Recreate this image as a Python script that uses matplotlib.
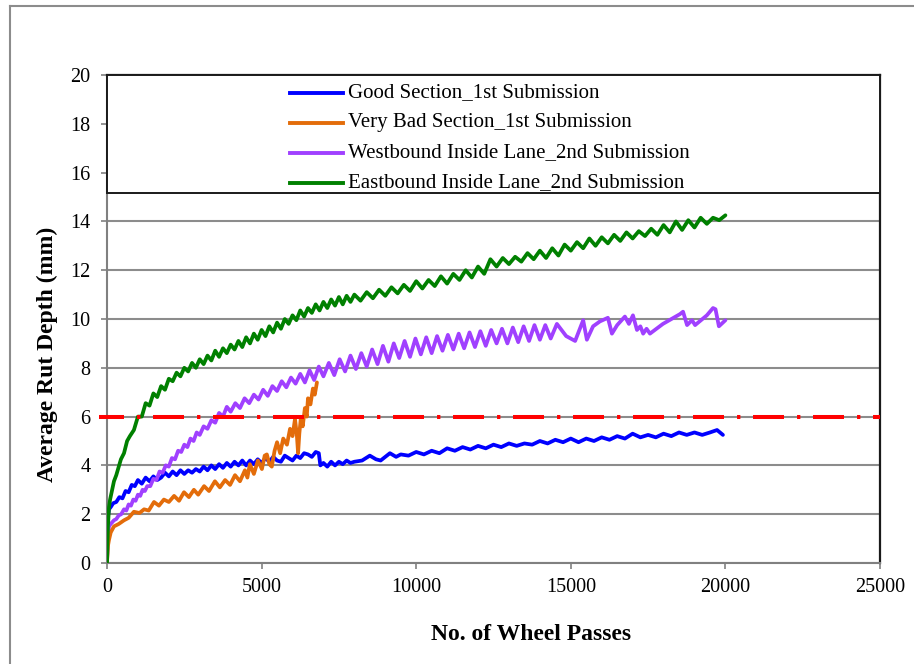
import matplotlib
matplotlib.use("Agg")
import matplotlib.pyplot as plt
from matplotlib.lines import Line2D
from matplotlib.patches import Rectangle

# ---------------- data: average rut depth (mm) vs. number of wheel passes ----------------
good_x = [0, 30, 65, 125, 200, 300, 400, 500, 600, 700,
          800, 900, 1000, 1125, 1250, 1375, 1500, 1625, 1750, 1875,
          2000, 2125, 2250, 2375, 2500, 2625, 2750, 2875, 3000, 3125,
          3250, 3375, 3500, 3625, 3750, 3875, 4000, 4125, 4250, 4375,
          4500, 4625, 4750, 4875, 5000, 5125, 5250, 5375, 5500, 5625,
          5750, 5875, 6000, 6125, 6250, 6375, 6500, 6625, 6750, 6850,
          6900, 7000, 7125, 7250, 7375, 7500, 7625, 7750, 7875, 8000,
          8250, 8500, 8700, 8850, 9000, 9150, 9350, 9500, 9750, 10000,
          10250, 10500, 10750, 11000, 11250, 11500, 11750, 12000, 12250, 12500,
          12750, 13000, 13250, 13500, 13750, 14000, 14250, 14500, 14750, 15000,
          15250, 15500, 15750, 16000, 16250, 16500, 16750, 17000, 17250, 17500,
          17750, 18000, 18250, 18500, 18750, 19000, 19250, 19500, 19730, 19920]
good_y = [0, 1.9, 2.2, 2.3, 2.45, 2.5, 2.7, 2.65, 2.95, 2.9,
          3.2, 3.15, 3.4, 3.25, 3.5, 3.35, 3.55, 3.4, 3.5, 3.7,
          3.55, 3.75, 3.6, 3.8, 3.65, 3.8, 3.7, 3.85, 3.75, 3.95,
          3.8, 4.0, 3.85, 4.05, 3.9, 4.1, 3.95, 4.15, 4.0, 4.2,
          4.0, 4.2, 4.05, 4.25, 4.1, 4.3, 4.15, 4.35, 4.2, 4.15,
          4.4, 4.3, 4.2, 4.4, 4.3, 4.5, 4.45, 4.35, 4.55, 4.5,
          4.0, 4.1, 3.95, 4.15, 4.0, 4.15, 4.05, 4.2, 4.1, 4.15,
          4.2, 4.4, 4.25, 4.2, 4.35, 4.5, 4.35, 4.45, 4.4, 4.55,
          4.45, 4.6, 4.5, 4.7, 4.6, 4.75, 4.65, 4.8, 4.7, 4.85,
          4.75, 4.9, 4.8, 4.9, 4.85, 5.0, 4.9, 5.05, 4.95, 5.1,
          4.95, 5.1, 5.0, 5.15, 5.05, 5.2, 5.1, 5.3, 5.15, 5.25,
          5.15, 5.3, 5.2, 5.35, 5.25, 5.35, 5.25, 5.35, 5.45, 5.25]

verybad_x = [0, 30, 65, 120, 225, 380, 550, 700, 870, 1050,
             1200, 1350, 1520, 1680, 1840, 2000, 2170, 2330, 2490, 2650,
             2810, 2950, 3140, 3300, 3490, 3650, 3820, 3980, 4140, 4300,
             4460, 4540, 4620, 4750, 4880, 5010, 5100, 5170, 5250, 5330,
             5420, 5500, 5600, 5700, 5820, 5920, 6000, 6080, 6140, 6180,
             6220, 6270, 6330, 6400, 6460, 6500, 6580, 6660, 6720, 6790]
verybad_y = [0, 0.7, 0.95, 1.25, 1.5, 1.6, 1.75, 1.85, 2.1, 2.05,
             2.2, 2.15, 2.5, 2.35, 2.6, 2.5, 2.75, 2.55, 2.9, 2.7,
             3.0, 2.8, 3.15, 2.95, 3.35, 3.1, 3.4, 3.2, 3.6, 3.35,
             3.8, 3.5, 4.05, 3.65, 4.2, 3.85, 4.4, 4.45, 4.05, 3.95,
             4.6, 4.95, 4.5, 5.1, 4.85, 5.5, 5.2, 5.9, 5.25, 4.5,
             5.3, 5.95, 5.6, 6.35, 6.0, 6.75, 6.5, 7.15, 6.9, 7.4]

west_x = [0, 30, 65, 120, 225, 300, 380, 460, 550, 625,
          700, 775, 850, 925, 1000, 1075, 1150, 1225, 1300, 1400,
          1500, 1600, 1700, 1800, 1900, 2000, 2100, 2200, 2300, 2400,
          2500, 2600, 2700, 2800, 2900, 3000, 3125, 3250, 3375, 3500,
          3625, 3750, 3875, 4000, 4150, 4300, 4450, 4600, 4750, 4900,
          5050, 5200, 5350, 5500, 5650, 5800, 5950, 6100, 6250, 6400,
          6550, 6700, 6850, 7000, 7175, 7350, 7525, 7700, 7875, 8050,
          8225, 8400, 8575, 8750, 8925, 9100, 9275, 9450, 9625, 9800,
          9975, 10150, 10325, 10500, 10675, 10850, 11025, 11200, 11375, 11550,
          11725, 11900, 12075, 12250, 12425, 12600, 12775, 12950, 13125, 13300,
          13475, 13650, 13825, 14000, 14175, 14350, 14550, 14850, 15140, 15400,
          15520, 15720, 15940, 16200, 16330, 16500, 16750, 16880, 17010, 17140,
          17250, 17340, 17450, 17560, 17980, 18530, 18630, 18760, 18920, 19020,
          19400, 19600, 19680, 19790, 20000]
west_y = [0, 1.1, 1.5, 1.6, 1.75, 1.8, 1.95, 2.0, 2.2, 2.15,
          2.4, 2.35, 2.6, 2.55, 2.8, 2.75, 3.0, 2.95, 3.15, 3.15,
          3.45, 3.4, 3.75, 3.7, 4.0, 3.95, 4.3, 4.25, 4.6, 4.55,
          4.85, 4.75, 5.1, 5.0, 5.35, 5.25, 5.6, 5.5, 5.85, 5.75,
          6.15, 6.0, 6.4, 6.2, 6.55, 6.35, 6.75, 6.55, 6.9, 6.7,
          7.1, 6.85, 7.25, 7.05, 7.45, 7.2, 7.6, 7.35, 7.75, 7.4,
          7.9, 7.5, 8.05, 7.65, 8.2, 7.7, 8.35, 7.85, 8.5, 7.95,
          8.6, 8.05, 8.75, 8.15, 8.9, 8.25, 9.0, 8.4, 9.1, 8.45,
          9.2, 8.55, 9.25, 8.6, 9.3, 8.7, 9.35, 8.75, 9.4, 8.8,
          9.45, 8.85, 9.5, 8.9, 9.55, 9.0, 9.6, 9.0, 9.65, 9.05,
          9.7, 9.1, 9.75, 9.15, 9.75, 9.2, 9.8, 9.3, 9.1, 9.95,
          9.15, 9.7, 9.9, 10.05, 9.4, 9.75, 10.1, 9.8, 10.15, 9.55,
          9.7, 9.4, 9.6, 9.4, 9.8, 10.2, 10.3, 9.75, 9.95, 9.75,
          10.15, 10.45, 10.4, 9.7, 9.95]

east_x = [0, 30, 65, 100, 150, 225, 300, 450, 550, 650,
          740, 870, 1000, 1125, 1250, 1375, 1500, 1625, 1750, 1875,
          2000, 2125, 2250, 2375, 2500, 2625, 2750, 2875, 3000, 3125,
          3250, 3375, 3500, 3625, 3750, 3875, 4000, 4125, 4250, 4375,
          4500, 4625, 4750, 4875, 5000, 5125, 5250, 5375, 5500, 5625,
          5750, 5875, 6000, 6125, 6250, 6375, 6500, 6625, 6750, 6875,
          7000, 7125, 7250, 7375, 7500, 7625, 7750, 7875, 8000, 8200,
          8400, 8600, 8800, 9000, 9200, 9400, 9600, 9800, 10000, 10200,
          10400, 10600, 10800, 11000, 11200, 11400, 11600, 11800, 12000, 12200,
          12400, 12600, 12800, 13000, 13200, 13400, 13600, 13800, 14000, 14200,
          14400, 14600, 14800, 15000, 15200, 15400, 15600, 15800, 16000, 16200,
          16400, 16600, 16800, 17000, 17200, 17400, 17600, 17800, 18000, 18200,
          18400, 18600, 18800, 19000, 19200, 19400, 19600, 19800, 20000]
east_y = [0, 1.5, 2.3, 2.6, 2.9, 3.35, 3.6, 4.25, 4.5, 5.0,
          5.2, 5.45, 6.0, 6.0, 6.55, 6.45, 6.95, 6.8, 7.25, 7.1,
          7.55, 7.45, 7.8, 7.65, 8.0, 7.85, 8.2, 8.0, 8.35, 8.15,
          8.5, 8.3, 8.7, 8.45, 8.8, 8.6, 8.95, 8.75, 9.1, 8.85,
          9.25, 9.0, 9.4, 9.15, 9.55, 9.3, 9.7, 9.45, 9.85, 9.6,
          10.0, 9.8, 10.15, 9.95, 10.35, 10.1, 10.45, 10.25, 10.6, 10.35,
          10.7, 10.45, 10.8, 10.55, 10.9, 10.6, 10.95, 10.7, 11.0, 10.75,
          11.1, 10.85, 11.2, 10.95, 11.3, 11.05, 11.4, 11.15, 11.55, 11.25,
          11.6, 11.35, 11.75, 11.45, 11.85, 11.6, 12.0, 11.7, 12.15, 11.85,
          12.45, 12.15, 12.5, 12.25, 12.55, 12.35, 12.7, 12.45, 12.8, 12.5,
          12.9, 12.6, 13.05, 12.8, 13.15, 12.9, 13.3, 13.0, 13.35, 13.1,
          13.45, 13.2, 13.55, 13.3, 13.6, 13.4, 13.7, 13.45, 13.85, 13.55,
          14.0, 13.65, 14.05, 13.75, 14.15, 13.9, 14.15, 14.05, 14.25]

series_labels = ["Good Section_1st Submission",
                 "Very Bad Section_1st Submission",
                 "Westbound Inside Lane_2nd Submission",
                 "Eastbound Inside Lane_2nd Submission"]
series_colors = ["#0000FF", "#E36C0A", "#A040FF", "#008000"]

rut_limit = 6.0                 # threshold rut depth (mm)
limit_span = [-250, 25000]      # horizontal extent of the threshold line

x_ticks = [0, 5000, 10000, 15000, 20000, 25000]
y_ticks = [0, 2, 4, 6, 8, 10, 12, 14, 16, 18, 20]

# ---------------- figure ----------------
plt.rcParams["font.family"] = ["Liberation Serif", "DejaVu Serif"]
plt.rcParams["lines.scale_dashes"] = False

W, H = 914, 664
fig = plt.figure(figsize=(W / 100, H / 100), dpi=100)
fig.patch.set_facecolor("white")

# chart-area border (grey)
border = dict(color="#8c8c8c", lw=1.5, transform=fig.transFigure)
fig.add_artist(Line2D([10 / W, 10 / W], [0, 1 - 6 / H], **border))
fig.add_artist(Line2D([10 / W, 1], [1 - 6 / H, 1 - 6 / H], **border))

ax = fig.add_axes([107 / W, 1 - 563 / H, 773 / W, 488 / H])
ax.set_xlim(0, 25000)
ax.set_ylim(0, 20)
ax.set_xticks(x_ticks)
ax.set_yticks(y_ticks)
ax.set_xticklabels([str(t) for t in x_ticks])
ax.set_yticklabels([str(t) for t in y_ticks])

ax.yaxis.grid(True, color="#8c8c8c", lw=1.5)
ax.set_axisbelow(True)

for side in ("left", "bottom"):
    ax.spines[side].set_color("#808080")
    ax.spines[side].set_linewidth(1.5)
for side in ("top", "right"):
    ax.spines[side].set_color("#1a1a1a")
    ax.spines[side].set_linewidth(1.6)

ax.tick_params(axis="both", direction="out", length=4, width=1.2,
               color="#808080", labelsize=14.5, labelcolor="black")
ax.tick_params(axis="y", pad=8)
ax.tick_params(axis="x", pad=7)

series = [(good_x, good_y), (verybad_x, verybad_y), (west_x, west_y), (east_x, east_y)]
zorders = [3.0, 3.3, 3.2, 3.4]
for (xs, ys), col, z in zip(series, series_colors, zorders):
    ax.plot(xs, ys, color=col, lw=2.7, solid_joinstyle="round",
            solid_capstyle="round", zorder=z)

# threshold line (dash-dot)
ax.plot(limit_span, [rut_limit, rut_limit], color="#FF0000", lw=2.9,
        linestyle=(4.3, (22.3, 9.4, 2.4, 9.1)), dash_capstyle="butt",
        clip_on=False, zorder=3.6)

# legend panel across the top of the plot area
leg_bottom = (563 - 193) / 488
ax.add_patch(Rectangle((0, leg_bottom), 1, 1 - leg_bottom, transform=ax.transAxes,
                       facecolor="white", edgecolor="#1a1a1a", lw=1.4,
                       zorder=5, clip_on=False))
row_y = [(563 - py) / 488 for py in (92.5, 123, 153, 183)]
h0, h1, tx = (290 - 107) / 773, (343 - 107) / 773, (348 - 107) / 773
for lab, col, yy in zip(series_labels, series_colors, row_y):
    ax.add_line(Line2D([h0, h1], [yy, yy], color=col, lw=2.8,
                       transform=ax.transAxes, zorder=6, clip_on=False))
    ax.text(tx, yy, lab, transform=ax.transAxes, fontsize=15,
            ha="left", va="center", zorder=6)

ax.set_xlabel("No. of Wheel Passes", fontsize=17, fontweight="bold")
ax.xaxis.set_label_coords((531.5 - 107) / 773, (563 - 635) / 488)
ax.xaxis.label.set_verticalalignment("center")
ax.set_ylabel("Average Rut Depth (mm)", fontsize=17, fontweight="bold")
ax.yaxis.set_label_coords((47 - 107) / 773, (563 - 354) / 488)
ax.yaxis.label.set_verticalalignment("center")

fig.savefig("out.png", dpi=100, facecolor="white")
